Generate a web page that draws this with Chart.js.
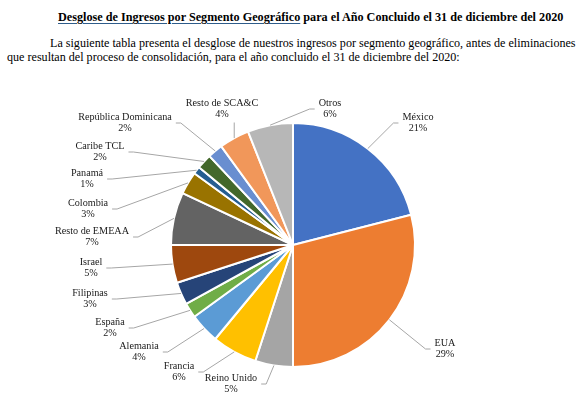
<!DOCTYPE html>
<html>
<head>
<meta charset="utf-8">
<script src="https://cdn.jsdelivr.net/npm/chart.js@4.4.0/dist/chart.umd.min.js"></script>
<style>
  body { margin: 0; background: #fff; }
  #wrap { position: relative; width: 583px; height: 403px; overflow: hidden; font-family: 'Liberation Serif', 'Times New Roman', serif; color: #000; }
  .txt { position: absolute; white-space: nowrap; }
  #title { left: 58px; top: 10px; font-size: 12.2px; font-weight: bold; }
  #title u { text-decoration-color: #2e5c8a; text-underline-offset: 2px; }
  #p1 { left: 50px; top: 36px; font-size: 12.1px; }
  #p2 { left: 7px; top: 50px; font-size: 12.1px; }
  canvas { position: absolute; left: 0; top: 0; }
</style>
</head>
<body>
<div id="wrap">
  <div class="txt" id="title"><u>Desglose de Ingresos por Segmento Geográfico</u> para el Año Concluido el 31 de diciembre del 2020</div>
  <div class="txt" id="p1">La siguiente tabla presenta el desglose de nuestros ingresos por segmento geográfico, antes de eliminaciones</div>
  <div class="txt" id="p2">que resultan del proceso de consolidación, para el año concluido el 31 de diciembre del 2020:</div>
  <canvas id="myChart" width="583" height="403"></canvas>
</div>
<script>
const segments = ["México", "EUA", "Reino Unido", "Francia", "Alemania", "España", "Filipinas", "Israel",
    "Resto de EMEAA", "Colombia", "Panamá", "Caribe TCL", "República Dominicana", "Resto de SCA&C", "Otros"];
const percents = [21, 29, 5, 6, 4, 2, 3, 5, 7, 3, 1, 2, 2, 4, 6];
const sliceColors = ["#4472C4", "#ED7D31", "#A5A5A5", "#FFC000", "#5B9BD5", "#70AD47", "#264478", "#9E480E",
    "#636363", "#997300", "#255E91", "#43682B", "#698ED0", "#F1975A", "#B7B7B7"];

// where each label block sits, offset from the pie centre (px)
const labelOffsets = [
    [125, -122], [152, 104], [-62, 139], [-114, 127], [-154, 107], [-183, 83], [-203, 54], [-202, 23],
    [-201, -8], [-205, -36], [-206, -66], [-193, -93], [-168, -122], [-71, -136], [37, -136]
];

const labelPlugin = {
    id: 'sliceLabels',
    afterDraw(chart) {
        const ctx = chart.ctx;
        const arcs = chart.getDatasetMeta(0).data;
        ctx.save();
        ctx.font = "10.2px 'Liberation Serif', 'Times New Roman', serif";
        ctx.textAlign = 'center';
        ctx.textBaseline = 'middle';
        const lineH = 11.5;
        arcs.forEach((arc, i) => {
            const mid = (arc.startAngle + arc.endAngle) / 2;
            const sx = arc.x + arc.outerRadius * Math.cos(mid);
            const sy = arc.y + arc.outerRadius * Math.sin(mid);
            const lx = arc.x + labelOffsets[i][0];
            const ly = arc.y + labelOffsets[i][1];
            const l1 = segments[i];
            const l2 = percents[i] + '%';
            const half = Math.max(ctx.measureText(l1).width, ctx.measureText(l2).width) / 2;

            // leader line
            ctx.strokeStyle = '#a6a6a6';
            ctx.lineWidth = 1;
            ctx.beginPath();
            if (sx > lx - half && sx < lx + half) {
                ctx.moveTo(sx, sy);
                ctx.lineTo(sx, ly + lineH + 2);
            } else {
                const side = sx < lx ? -1 : 1;
                const ax = lx + side * (half + 4);
                ctx.moveTo(sx, sy);
                ctx.lineTo(ax + side * 5, ly);
                ctx.lineTo(ax, ly);
            }
            ctx.stroke();

            ctx.fillStyle = '#1a1a1a';
            ctx.fillText(l1, lx, ly - lineH / 2);
            ctx.fillText(l2, lx, ly + lineH / 2);
        });
        ctx.restore();
    }
};

new Chart(document.getElementById('myChart').getContext('2d'), {
    type: 'pie',
    data: {
        labels: segments,
        datasets: [{
            data: percents,
            backgroundColor: sliceColors,
            borderColor: '#ffffff',
            borderWidth: 2,
            hoverOffset: 0
        }]
    },
    options: {
        responsive: false,
        animation: false,
        layout: { padding: { top: 122, bottom: 35, left: 100, right: 97 } },
        plugins: { legend: { display: false }, tooltip: { enabled: false } }
    },
    plugins: [labelPlugin]
});
</script>
</body>
</html>
